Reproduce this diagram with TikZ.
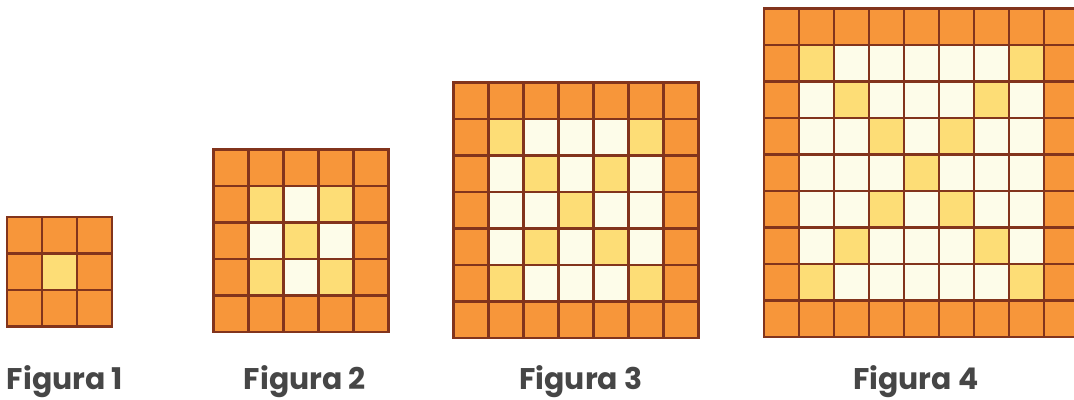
\documentclass[tikz,border=0pt]{standalone}
\usepackage{fontspec}
\setmainfont{Poppins}
\usepackage{xcolor}
\usepackage{tikz}
\definecolor{myorange}{RGB}{247,150,58}
\definecolor{myyellow}{RGB}{253,221,118}
\definecolor{mycream}{RGB}{253,252,233}
\definecolor{mybrown}{RGB}{130,52,28}
\definecolor{mygrey}{RGB}{70,70,70}
\tikzset{
  cell/.style={draw=mybrown, line width=1.3pt},
  figlabel/.style={font=\fontsize{17}{19}\selectfont\bfseries, color=mygrey, anchor=center}
}

\begin{document}
\begin{tikzpicture}
  \useasboundingbox (0,0) rectangle (21.48,8);
  \clip (0,0) rectangle (21.48,8);
  % figure / size / left / bottom / label x
  \foreach \fig/\n/\x/\y/\lx in {1/3/0.14/1.47/1.30, 2/5/4.27/1.36/6.10, 3/7/9.07/1.24/11.62, 4/9/15.28/1.26/18.32} {
    \pgfmathtruncatemacro\last{\n-1}
    \foreach \i in {0,...,\last} {
      \foreach \j in {0,...,\last} {
        \pgfmathtruncatemacro\kind{(\i==0||\j==0||\i==\last||\j==\last) ? 0 : ((\i==\j||\i+\j==\last) ? 1 : 2)}
        \ifcase\kind \def\cellfill{myorange}\or \def\cellfill{myyellow}\or \def\cellfill{mycream}\fi
        \draw[cell, fill=\cellfill] ({\x+\i*0.7},{\y+\j*0.73}) rectangle ++(0.7,0.73);
      }
    }
    \node[figlabel] (fig\fig) at (\lx,0.37) {Figura \fig};
  }
\end{tikzpicture}
\end{document}
